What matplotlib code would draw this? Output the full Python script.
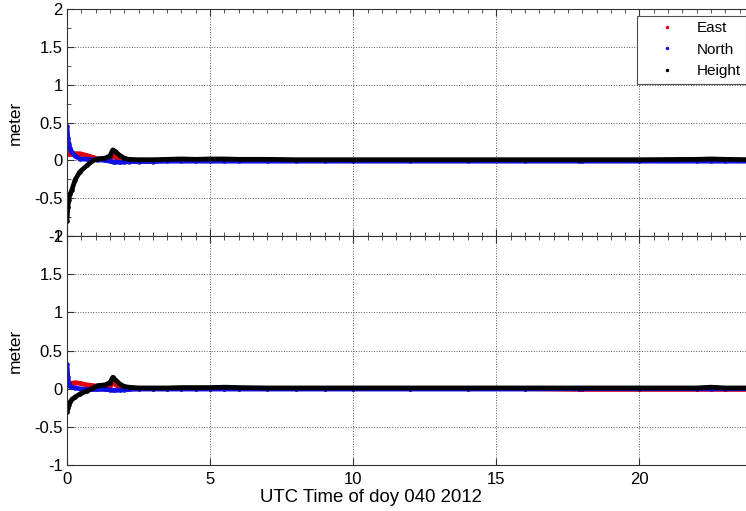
import numpy as np
import matplotlib
matplotlib.use('agg')
import matplotlib.pyplot as plt
from matplotlib.ticker import MultipleLocator, FuncFormatter

plt.rcParams['font.family'] = ['Liberation Sans', 'DejaVu Sans']
plt.rcParams['font.size'] = 11

# hours of day 040 2012
t = [0.0, 0.03, 0.06, 0.1, 0.17, 0.28, 0.45, 0.7, 0.92, 1.05, 1.33, 1.5, 1.6,
     1.68, 1.85, 2.0, 2.15, 2.5, 3.0, 3.5, 4.0, 4.5, 5.0, 5.5, 6.0, 7.0, 8.0,
     9.0, 10.0, 12.0, 14.0, 16.0, 17.9, 18.0, 20.0, 22.0, 22.5, 23.0, 24.0]

# upper panel (meter)
east_a = [0.11, 0.09, 0.09, 0.09, 0.09, 0.09, 0.09, 0.065, 0.04, 0.02, 0.02,
          0.04, 0.06, 0.05, 0.01, 0.0, 0.0, 0.0, 0.0, 0.0, 0.0, 0.0, 0.0, 0.0,
          0.0, 0.0, 0.0, 0.0, 0.0, 0.0, 0.0, 0.0, 0.0, 0.0, 0.0, 0.0, 0.0, 0.0, 0.0]
north_a = [0.45, 0.30, 0.22, 0.16, 0.11, 0.06, 0.02, 0.015, 0.01, 0.01, 0.0,
           -0.01, -0.015, -0.02, -0.025, -0.02, -0.015, -0.015, -0.015, -0.01,
           -0.01, -0.01, -0.01, -0.01, -0.01, -0.01, -0.01, -0.01, -0.01, -0.01,
           -0.01, -0.01, -0.01, -0.01, -0.01, -0.01, -0.01, -0.01, -0.01]
height_a = [-0.80, -0.62, -0.52, -0.45, -0.39, -0.26, -0.15, -0.065, 0.0, 0.02,
            0.03, 0.06, 0.14, 0.12, 0.065, 0.03, 0.015, 0.01, 0.01, 0.015, 0.02,
            0.015, 0.02, 0.02, 0.015, 0.015, 0.01, 0.01, 0.01, 0.01, 0.01, 0.01,
            0.01, 0.01, 0.01, 0.015, 0.02, 0.015, 0.01]

# lower panel (meter)
east_b = [0.10, 0.09, 0.08, 0.07, 0.07, 0.08, 0.07, 0.05, 0.04, 0.03, 0.02,
          0.04, 0.07, 0.06, 0.01, 0.0, 0.0, 0.0, 0.0, 0.0, 0.0, 0.0, 0.0, 0.0,
          0.0, 0.0, 0.0, 0.0, 0.0, 0.0, 0.0, 0.0, -0.01, -0.01, -0.01, -0.01,
          -0.01, -0.01, -0.01]
north_b = [0.32, 0.15, 0.08, 0.03, 0.02, 0.01, 0.0, -0.01, -0.01, -0.01, -0.01,
           -0.015, -0.02, -0.02, -0.02, -0.015, -0.01, -0.005, -0.005, -0.005,
           -0.005, -0.005, -0.005, -0.005, -0.005, -0.005, -0.005, -0.005,
           -0.005, -0.005, -0.005, -0.005, 0.0, 0.0, 0.0, 0.0, 0.0, 0.0, 0.0]
height_b = [-0.31, -0.25, -0.21, -0.18, -0.14, -0.11, -0.07, -0.03, 0.01, 0.04,
            0.05, 0.08, 0.15, 0.12, 0.06, 0.03, 0.02, 0.01, 0.01, 0.01, 0.015,
            0.015, 0.015, 0.02, 0.015, 0.01, 0.01, 0.01, 0.01, 0.01, 0.01, 0.01,
            0.01, 0.01, 0.01, 0.01, 0.02, 0.01, 0.01]

labels = ['East', 'North', 'Height']
colors = ['#e0000f', '#1010e0', 'black']

fig = plt.figure(figsize=(7.46, 5.11), dpi=100)
left, right = 0.0898, 1.0107
ax1 = fig.add_axes([left, 0.538, right - left, 0.982 - 0.538])
ax2 = fig.add_axes([left, 0.090, right - left, 0.538 - 0.090])

fmt = FuncFormatter(lambda v, p: '%g' % v)
for ax, series in ((ax1, (east_a, north_a, height_a)), (ax2, (east_b, north_b, height_b))):
    for y, c, lab in zip(series, colors, labels):
        ax.plot(t, y, color=c, lw=3.4, marker='.', ms=4.5, label=lab,
                solid_capstyle='butt')
    ax.set_xlim(0, 24)
    ax.set_ylim(-1, 2)
    ax.xaxis.set_major_locator(MultipleLocator(5))
    ax.yaxis.set_major_locator(MultipleLocator(0.5))
    ax.xaxis.set_minor_locator(MultipleLocator(0.5))
    ax.xaxis.set_major_formatter(fmt)
    ax.yaxis.set_major_formatter(fmt)
    ax.grid(True, which='major', color='0.35', linestyle=':', lw=0.7)
    ax.set_ylabel('meter', fontsize=12.5, labelpad=8)
    for s in ax.spines.values():
        s.set_color('0.2')
        s.set_linewidth(0.8)
    ax.tick_params(which='both', direction='in', color='0.2', top=True, right=True)
    ax.tick_params(which='major', length=5, labelsize=12, pad=3)
    ax.tick_params(which='minor', length=3)

ax1.yaxis.set_minor_locator(MultipleLocator(0.25))
ax1.tick_params(labelbottom=False)
ax2.tick_params(which='minor', bottom=False, left=False, right=False)
ax2.tick_params(axis='x', which='major', pad=5)
ax2.set_xlabel('UTC Time of doy 040 2012', fontsize=13.4, labelpad=1)
ax2.xaxis.set_label_coords(0.4425, -0.105)

handles = [plt.Line2D([], [], color=c, marker='.', ms=3, ls='none') for c in colors]
leg = ax1.legend(handles, labels, loc='upper left', bbox_to_anchor=(0.854, 0.969),
                 bbox_transform=fig.transFigure, fancybox=False, framealpha=1,
                 edgecolor='0.3', handlelength=3.2, handletextpad=0.35,
                 borderpad=0.35, labelspacing=0.5, borderaxespad=0, fontsize=11)
leg.get_frame().set_linewidth(0.8)

fig.savefig('out.png', dpi=100)
